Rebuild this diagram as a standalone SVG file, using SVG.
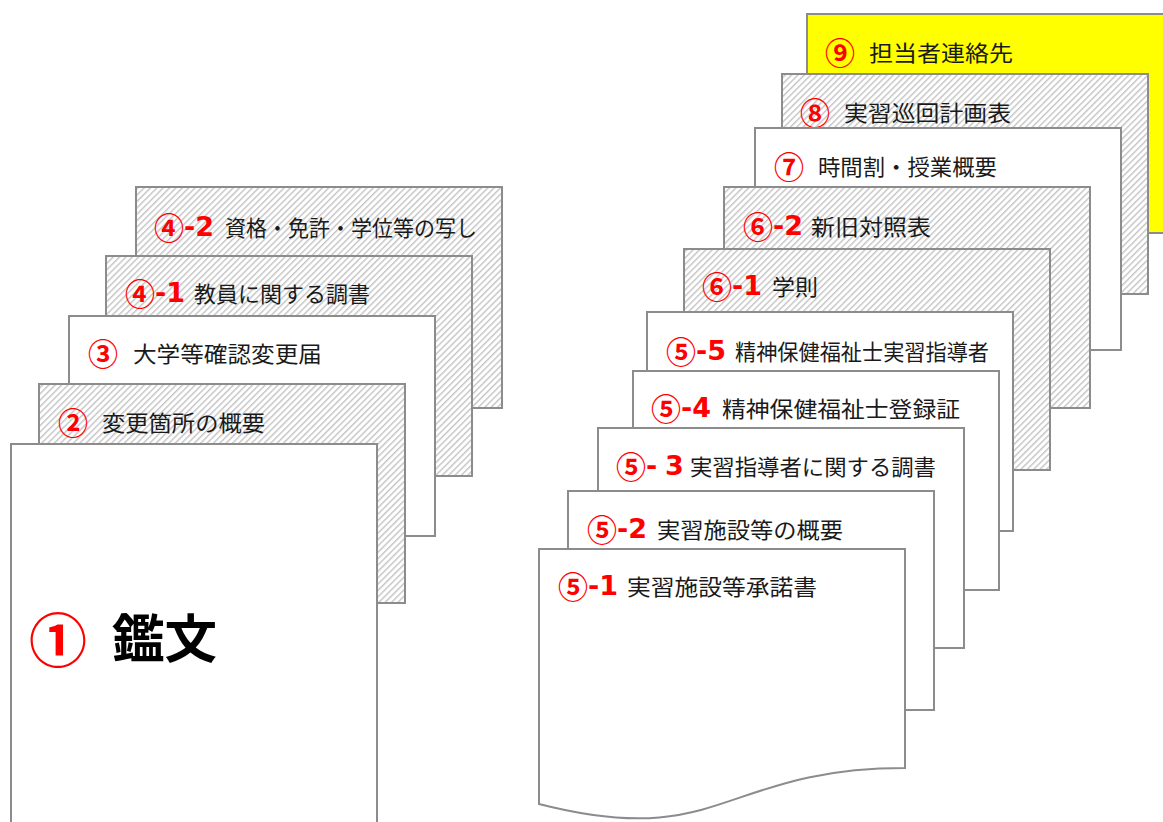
<svg xmlns="http://www.w3.org/2000/svg" width="1163" height="822" viewBox="0 0 1163 822">
<defs>
<pattern id="hatch" patternUnits="userSpaceOnUse" width="4.5" height="4.5" patternTransform="rotate(45)">
<rect width="4.5" height="4.5" fill="#ffffff"/>
<line x1="0.75" y1="0" x2="0.75" y2="4.5" stroke="#bfbfbf" stroke-width="1.3"/>
</pattern>
<style>
.pg{stroke:#8c8c8c;stroke-width:2;fill:#ffffff}
.ht{fill:url(#hatch)}
.yl{fill:#ffff00}
text{font-family:"Noto Sans","Noto Sans CJK JP",sans-serif;dominant-baseline:central}
.c{fill:#ff0000;font-size:30px;font-weight:bold}
.n{fill:#ff0000;font-size:27px;font-weight:bold;font-family:"DejaVu Sans","Noto Sans CJK JP",sans-serif}
.t{fill:#1a1a1a;font-size:22px}
</style>
</defs>
<rect width="1163" height="822" fill="#ffffff"/>

<g id="left-stack">
<g id="doc4-2">
<rect class="pg ht" x="136" y="187" width="366" height="221"/>
<text class="c" x="154" y="227">④</text>
<text class="n" x="184" y="226">-2</text>
<text class="t" x="225" y="227" textLength="252" lengthAdjust="spacingAndGlyphs">資格・免許・学位等の写し</text>
</g>
<g id="doc4-1">
<rect class="pg ht" x="106" y="256" width="366" height="220"/>
<text class="c" x="125" y="293">④</text>
<text class="n" x="155" y="292">-1</text>
<text class="t" x="194" y="293" textLength="176" lengthAdjust="spacingAndGlyphs">教員に関する調書</text>
</g>
<g id="doc3">
<rect class="pg" x="69" y="316" width="366" height="220"/>
<text class="c" x="88" y="353">③</text>
<text class="t" x="133" y="353" textLength="189" lengthAdjust="spacingAndGlyphs">大学等確認変更届</text>
</g>
<g id="doc2">
<rect class="pg ht" x="39" y="384" width="366" height="219"/>
<text class="c" x="58" y="422">②</text>
<text class="t" x="102" y="422" textLength="163" lengthAdjust="spacingAndGlyphs">変更箇所の概要</text>
</g>
<g id="doc1">
<rect class="pg" x="11" y="444" width="366" height="400"/>
<text x="29" y="639" fill="#ff0000" font-size="58" font-weight="bold">①</text>
<text x="112" y="637" fill="#000000" font-size="52" font-weight="bold" textLength="105" lengthAdjust="spacingAndGlyphs">鑑文</text>
</g>
</g>

<g id="right-stack">
<g id="doc9">
<rect class="pg yl" x="807" y="14" width="380" height="219"/>
<text class="c" x="825" y="52">⑨</text>
<text class="t" x="869" y="52" textLength="144" lengthAdjust="spacingAndGlyphs">担当者連絡先</text>
</g>
<g id="doc8">
<rect class="pg ht" x="782" y="74" width="366" height="220"/>
<text class="c" x="800" y="112">⑧</text>
<text class="t" x="844" y="112" textLength="167" lengthAdjust="spacingAndGlyphs">実習巡回計画表</text>
</g>
<g id="doc7">
<rect class="pg" x="755" y="128" width="366" height="222"/>
<text class="c" x="774" y="166">⑦</text>
<text class="t" x="818" y="166" textLength="179" lengthAdjust="spacingAndGlyphs">時間割・授業概要</text>
</g>
<g id="doc6-2">
<rect class="pg ht" x="724" y="187" width="366" height="221"/>
<text class="c" x="743" y="226">⑥</text>
<text class="n" x="773" y="225">-2</text>
<text class="t" x="811" y="226" textLength="120" lengthAdjust="spacingAndGlyphs">新旧対照表</text>
</g>
<g id="doc6-1">
<rect class="pg ht" x="684" y="249" width="366" height="221"/>
<text class="c" x="702" y="286">⑥</text>
<text class="n" x="732" y="285">-1</text>
<text class="t" x="772" y="286" textLength="46" lengthAdjust="spacingAndGlyphs">学則</text>
</g>
<g id="doc5-5">
<rect class="pg" x="647" y="312" width="366" height="219"/>
<text class="c" x="666" y="351">⑤</text>
<text class="n" x="696" y="350">-5</text>
<text class="t" x="735" y="351" textLength="254" lengthAdjust="spacingAndGlyphs">精神保健福祉士実習指導者</text>
</g>
<g id="doc5-4">
<rect class="pg" x="633" y="371" width="366" height="219"/>
<text class="c" x="651" y="408">⑤</text>
<text class="n" x="681" y="407">-4</text>
<text class="t" x="722" y="408" textLength="238" lengthAdjust="spacingAndGlyphs">精神保健福祉士登録証</text>
</g>
<g id="doc5-3">
<rect class="pg" x="598" y="428" width="366" height="220"/>
<text class="c" x="616" y="466">⑤</text>
<text class="n" x="646" y="465">-<tspan x="665">3</tspan></text>
<text class="t" x="690" y="466" textLength="246" lengthAdjust="spacingAndGlyphs">実習指導者に関する調書</text>
</g>
<g id="doc5-2">
<rect class="pg" x="568" y="491" width="366" height="219"/>
<text class="c" x="587" y="529">⑤</text>
<text class="n" x="617" y="528">-2</text>
<text class="t" x="657" y="529" textLength="186" lengthAdjust="spacingAndGlyphs">実習施設等の概要</text>
</g>
<g id="doc5-1">
<path class="pg" d="M539,549 H905 V768 C722,768 722,851 539,804 Z"/>
<text class="c" x="558" y="586">⑤</text>
<text class="n" x="588" y="585">-1</text>
<text class="t" x="627" y="586" textLength="190" lengthAdjust="spacingAndGlyphs">実習施設等承諾書</text>
</g>
</g>
</svg>
